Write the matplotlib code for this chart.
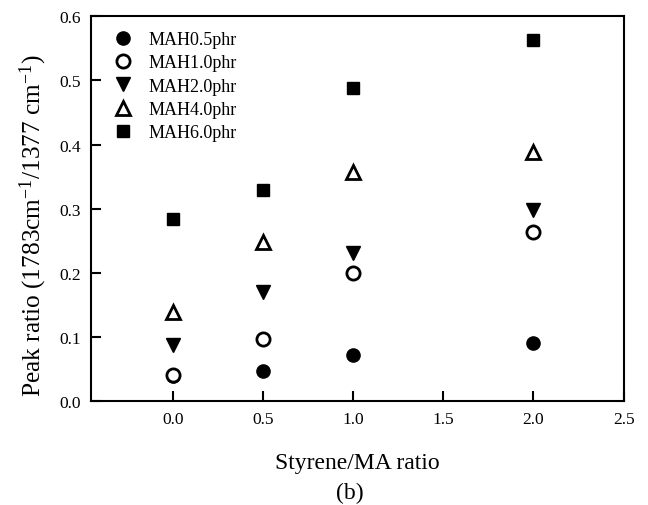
import matplotlib
matplotlib.use("Agg")
import matplotlib.pyplot as plt

plt.rcParams['font.family'] = ['Liberation Serif', 'DejaVu Serif']
plt.rcParams['mathtext.fontset'] = 'custom'
plt.rcParams['mathtext.rm'] = 'Liberation Serif'
plt.rcParams['mathtext.it'] = 'Liberation Serif:italic'

# Styrene/MA ratio
ratio = [0.0, 0.5, 1.0, 2.0]

# Peak ratio (1783 cm-1 / 1377 cm-1) for each MAH loading
mah_05 = [0.040, 0.048, 0.073, 0.091]
mah_10 = [0.042, 0.098, 0.200, 0.264]
mah_20 = [0.088, 0.170, 0.232, 0.299]
mah_40 = [0.139, 0.248, 0.357, 0.389]
mah_60 = [0.285, 0.330, 0.489, 0.563]

labels = ["MAH0.5phr", "MAH1.0phr", "MAH2.0phr", "MAH4.0phr", "MAH6.0phr"]
xticks = [0.0, 0.5, 1.0, 1.5, 2.0, 2.5]
yticks = [0.0, 0.1, 0.2, 0.3, 0.4, 0.5, 0.6]

fig = plt.figure(figsize=(6.48, 5.06), dpi=100)
ax = fig.add_axes([0.1404, 0.2046, 0.8226, 0.7612])

ax.plot(ratio, mah_05, linestyle='none', marker='o', ms=9.5, mfc='black', mec='black', label=labels[0])
ax.plot(ratio, mah_10, linestyle='none', marker='o', ms=9.5, mfc='white', mec='black', mew=2, label=labels[1])
ax.plot(ratio, mah_20, linestyle='none', marker='v', ms=10, mfc='black', mec='black', label=labels[2])
ax.plot(ratio, mah_40, linestyle='none', marker='^', ms=9.5, mfc='white', mec='black', mew=2, label=labels[3])
ax.plot(ratio, mah_60, linestyle='none', marker='s', ms=9, mfc='black', mec='black', label=labels[4])

ax.set_xlim(-0.453, 2.502)
ax.set_ylim(0.0, 0.6)
ax.set_xticks(xticks)
ax.set_yticks(yticks)
ax.set_xticklabels([f"{v:.1f}" for v in xticks])
ax.set_yticklabels([f"{v:.1f}" for v in yticks])

for s in ax.spines.values():
    s.set_linewidth(1.5)
ax.tick_params(direction='in', length=7, width=1.5, labelsize=12.5, pad=7,
               top=False, right=False)

ax.set_xlabel("Styrene/MA ratio", fontsize=17, labelpad=18)
ax.set_ylabel(r"Peak ratio (1783cm$^{-1}$/1377 cm$^{-1}$)", fontsize=18.3)
ax.yaxis.set_label_coords(-0.078, 0.46)
fig.text(0.540, 0.024, "(b)", fontsize=17, ha='center', va='center')

ax.legend(loc='upper left', bbox_to_anchor=(0.01, 0.995), frameon=False,
          fontsize=13, labelspacing=0.35, handletextpad=0.6, borderaxespad=0.3,
          handlelength=1.6)

fig.savefig("out.png", dpi=100)
